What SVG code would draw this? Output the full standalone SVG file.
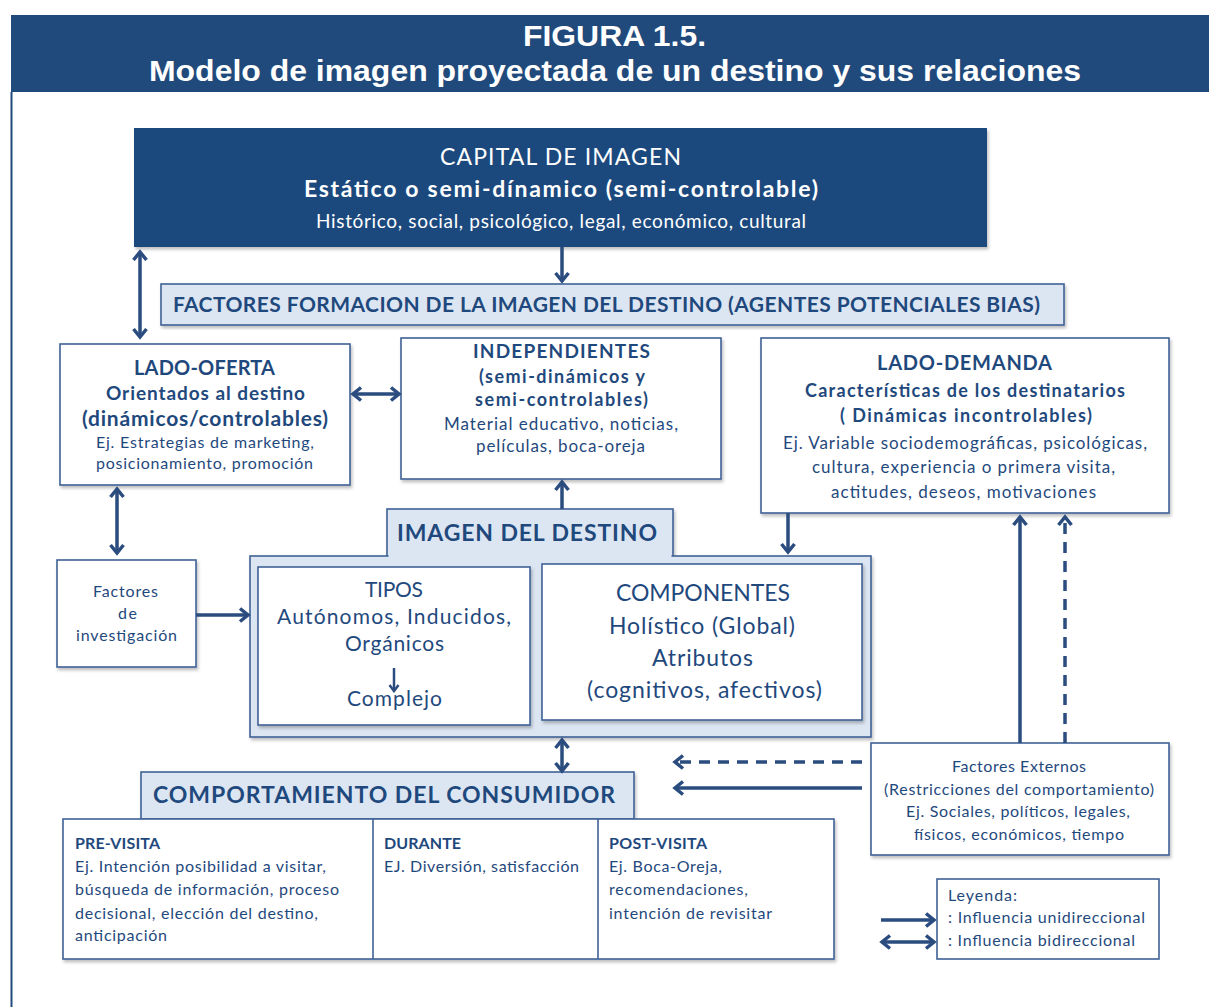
<svg xmlns="http://www.w3.org/2000/svg" width="1209" height="1007" viewBox="0 0 1209 1007">
<defs>
<marker id="ah" viewBox="0 0 16 16" refX="13" refY="8" markerWidth="16" markerHeight="16" markerUnits="userSpaceOnUse" orient="auto-start-reverse">
<path d="M5,1.5 L13,8 L5,14.5" fill="none" stroke="#2a4c7e" stroke-width="3.5"/>
</marker>
<marker id="ahs" viewBox="0 0 12 12" refX="10" refY="6" markerWidth="12" markerHeight="12" markerUnits="userSpaceOnUse" orient="auto-start-reverse">
<path d="M4,1.5 L10,6 L4,10.5" fill="none" stroke="#2a4c7e" stroke-width="2.5"/>
</marker>
<filter id="sh" x="-5%" y="-5%" width="110%" height="115%">
<feDropShadow dx="1.5" dy="2.5" stdDeviation="1.5" flood-color="#000" flood-opacity="0.25"/>
</filter>
</defs>
<style>
.box{fill:#fff;stroke:#3f6196;stroke-width:1.6;filter:url(#sh)}
.lb{fill:#dce6f2;stroke:#3f6196;stroke-width:1.6;filter:url(#sh)}
.t{font-family:Lato,"Open Sans","Liberation Sans",sans-serif;fill:#1f497d;text-anchor:middle}
.l{font-family:Lato,"Open Sans","Liberation Sans",sans-serif;fill:#1f497d}
.b{font-weight:bold}
.w{fill:#fff}
.ar{fill:none;stroke:#2a4c7e;stroke-width:3.5}
.d{stroke-dasharray:11 8}
</style>
<rect width="1209" height="1007" fill="#fff"/>
<g id="header">
<rect x="11" y="15" width="1198" height="77" fill="#214a7c"/>
<line x1="11.5" y1="92" x2="11.5" y2="1007" stroke="#214a7c" stroke-width="2"/>
<text x="614.5" y="46" font-family="'Liberation Sans',Arial,sans-serif" font-weight="bold" font-size="29" fill="#fff" text-anchor="middle" textLength="183" lengthAdjust="spacingAndGlyphs">FIGURA 1.5.</text>
<text x="615" y="81" font-family="'Liberation Sans',Arial,sans-serif" font-weight="bold" font-size="29" fill="#fff" text-anchor="middle" textLength="932" lengthAdjust="spacingAndGlyphs">Modelo de imagen proyectada de un destino y sus relaciones</text>
</g>
<g id="capital">
<rect x="134" y="128" width="853" height="119" fill="#1f497d" filter="url(#sh)"/>
<text class="t w" x="560.5" y="165" font-size="23" textLength="241">CAPITAL DE IMAGEN</text>
<text class="t w b" x="561" y="197" font-size="23" textLength="514">Estático o semi-dínamico (semi-controlable)</text>
<text class="t w" x="561" y="228" font-size="19" textLength="490">Histórico, social, psicológico, legal, económico, cultural</text>
</g>
<g id="factores-formacion">
<rect class="lb" x="161" y="284" width="903" height="41"/>
<text class="t b" x="606.5" y="312" font-size="21" textLength="867">FACTORES FORMACION DE LA IMAGEN DEL DESTINO (AGENTES POTENCIALES BIAS)</text>
</g>
<g id="lado-oferta">
<rect class="box" x="60" y="344" width="290" height="141"/>
<text class="t b" x="204.5" y="375" font-size="20" textLength="141">LADO-OFERTA</text>
<text class="t b" x="205.5" y="400" font-size="19" textLength="199">Orientados al destino</text>
<text class="t b" x="205" y="426" font-size="21" textLength="246">(dinámicos/controlables)</text>
<text class="t" x="205" y="448" font-size="16" textLength="218">Ej. Estrategias de marketing,</text>
<text class="t" x="204.5" y="469" font-size="16" textLength="217">posicionamiento, promoción</text>
</g>
<g id="independientes">
<rect class="box" x="401" y="338" width="320" height="141"/>
<text class="t b" x="561.5" y="358" font-size="19" textLength="177">INDEPENDIENTES</text>
<text class="t b" x="562" y="383" font-size="18" textLength="166">(semi-dinámicos y</text>
<text class="t b" x="561.5" y="406" font-size="18" textLength="173">semi-controlables)</text>
<text class="t" x="561" y="430" font-size="17" textLength="234">Material educativo, noticias,</text>
<text class="t" x="560.5" y="452" font-size="17" textLength="169">películas, boca-oreja</text>
</g>
<g id="lado-demanda">
<rect class="box" x="761" y="338" width="408" height="175"/>
<text class="t b" x="964.5" y="370" font-size="20" textLength="175">LADO-DEMANDA</text>
<text class="t b" x="965" y="397" font-size="18" textLength="320">Características de los destinatarios</text>
<text class="t b" x="966" y="422" font-size="18" textLength="252">( Dinámicas incontrolables)</text>
<text class="t" x="965" y="449" font-size="17" textLength="364">Ej. Variable sociodemográficas,  psicológicas,</text>
<text class="t" x="963.5" y="473" font-size="17" textLength="303">cultura, experiencia  o primera visita,</text>
<text class="t" x="963.5" y="498" font-size="17" textLength="265">actitudes, deseos, motivaciones</text>
</g>
<g id="factores-investigacion">
<rect class="box" x="57" y="560" width="139" height="107"/>
<text class="t" x="125.5" y="597" font-size="16" textLength="65">Factores</text>
<text class="t" x="127.5" y="619" font-size="16" textLength="19">de</text>
<text class="t" x="126.5" y="641" font-size="16" textLength="101">investigación</text>
</g>
<g id="imagen-destino">
<rect class="lb" x="387" y="509" width="286" height="47"/>
<text class="t b" x="527" y="541" font-size="23" textLength="260">IMAGEN DEL DESTINO</text>
<rect class="lb" x="250" y="556" width="621" height="181"/>
<rect x="388.5" y="553" width="283" height="5" fill="#dce6f2"/>
</g>
<g id="tipos">
<rect class="box" x="258" y="567" width="272" height="158"/>
<text class="t" x="394" y="597" font-size="21" textLength="58">TIPOS</text>
<text class="t" x="394" y="624" font-size="21" textLength="234">Autónomos, Inducidos,</text>
<text class="t" x="394.5" y="651" font-size="21" textLength="99">Orgánicos</text>
<text class="t" x="394.5" y="706" font-size="21" textLength="95">Complejo</text>
</g>
<g id="componentes">
<rect class="box" x="542" y="564" width="320" height="156"/>
<text class="t" x="703" y="601" font-size="23" textLength="174">COMPONENTES</text>
<text class="t" x="702" y="634" font-size="23" textLength="186">Holístico (Global)</text>
<text class="t" x="702.5" y="666" font-size="23" textLength="101">Atributos</text>
<text class="t" x="704.5" y="698" font-size="23" textLength="235">(cognitivos, afectivos)</text>
</g>
<g id="comportamiento">
<rect class="lb" x="141" y="772" width="493" height="47"/>
<text class="t b" x="384" y="803" font-size="23" textLength="462">COMPORTAMIENTO DEL CONSUMIDOR</text>
<rect class="box" x="63" y="819" width="771" height="140"/>
<line x1="373" y1="819" x2="373" y2="959" stroke="#3f6196" stroke-width="1.6"/>
<line x1="598" y1="819" x2="598" y2="959" stroke="#3f6196" stroke-width="1.6"/>
<text class="l b" x="75" y="849" font-size="16" textLength="85">PRE-VISITA</text>
<text class="l" x="75" y="872" font-size="16" textLength="251">Ej. Intención posibilidad a visitar,</text>
<text class="l" x="75" y="895" font-size="16" textLength="264">búsqueda de información, proceso</text>
<text class="l" x="75" y="919" font-size="16" textLength="243">decisional, elección del destino,</text>
<text class="l" x="75" y="941" font-size="16" textLength="92">anticipación</text>
<text class="l b" x="384" y="849" font-size="16" textLength="77">DURANTE</text>
<text class="l" x="384" y="872" font-size="16" textLength="195">EJ. Diversión, satisfacción</text>
<text class="l b" x="609" y="849" font-size="16" textLength="98">POST-VISITA</text>
<text class="l" x="609" y="872" font-size="16" textLength="113">Ej. Boca-Oreja,</text>
<text class="l" x="609" y="895" font-size="16" textLength="139">recomendaciones,</text>
<text class="l" x="609" y="919" font-size="16" textLength="163">intención de revisitar</text>
</g>
<g id="factores-externos">
<rect class="box" x="871" y="743" width="298" height="112"/>
<text class="t" x="1019" y="772" font-size="16" textLength="134">Factores Externos</text>
<text class="t" x="1019" y="795" font-size="16" textLength="270">(Restricciones del comportamiento)</text>
<text class="t" x="1018" y="817" font-size="16" textLength="224">Ej. Sociales, políticos, legales,</text>
<text class="t" x="1019" y="840" font-size="16" textLength="210">físicos, económicos, tiempo</text>
</g>
<g id="leyenda">
<rect x="937" y="879" width="222" height="80" fill="#fff" stroke="#3f6196" stroke-width="1.6"/>
<text class="l" x="948" y="901" font-size="16" textLength="69">Leyenda:</text>
<text class="l" x="948" y="923" font-size="16" textLength="197">: Influencia unidireccional</text>
<text class="l" x="948" y="946" font-size="16" textLength="187">: Influencia bidireccional</text>
</g>
<g id="connectors">
<line class="ar" x1="562" y1="247" x2="562" y2="281" marker-end="url(#ah)"/>
<line class="ar" x1="140" y1="252" x2="140" y2="337" marker-start="url(#ah)" marker-end="url(#ah)"/>
<line class="ar" x1="353" y1="394" x2="399" y2="394" marker-start="url(#ah)" marker-end="url(#ah)"/>
<line class="ar" x1="117" y1="489" x2="117" y2="553" marker-start="url(#ah)" marker-end="url(#ah)"/>
<line class="ar" x1="196" y1="615" x2="248" y2="615" marker-end="url(#ah)"/>
<line class="ar" x1="562" y1="509" x2="562" y2="482" marker-end="url(#ah)"/>
<line class="ar" x1="788" y1="513" x2="788" y2="552" marker-end="url(#ah)"/>
<line class="ar" x1="562" y1="740" x2="562" y2="771" marker-start="url(#ah)" marker-end="url(#ah)"/>
<line x1="394" y1="668" x2="394" y2="691" fill="none" stroke="#2a4c7e" stroke-width="2.5" marker-end="url(#ahs)"/>
<line class="ar" x1="1020" y1="743" x2="1020" y2="517" marker-end="url(#ah)"/>
<line class="ar d" x1="1065" y1="743" x2="1065" y2="517" marker-end="url(#ah)"/>
<line class="ar d" x1="862" y1="762" x2="675" y2="762" marker-end="url(#ah)"/>
<line class="ar" x1="862" y1="788" x2="675" y2="788" marker-end="url(#ah)"/>
<line class="ar" x1="881" y1="920" x2="934" y2="920" marker-end="url(#ah)"/>
<line class="ar" x1="882" y1="942" x2="934" y2="942" marker-start="url(#ah)" marker-end="url(#ah)"/>
</g>
</svg>
